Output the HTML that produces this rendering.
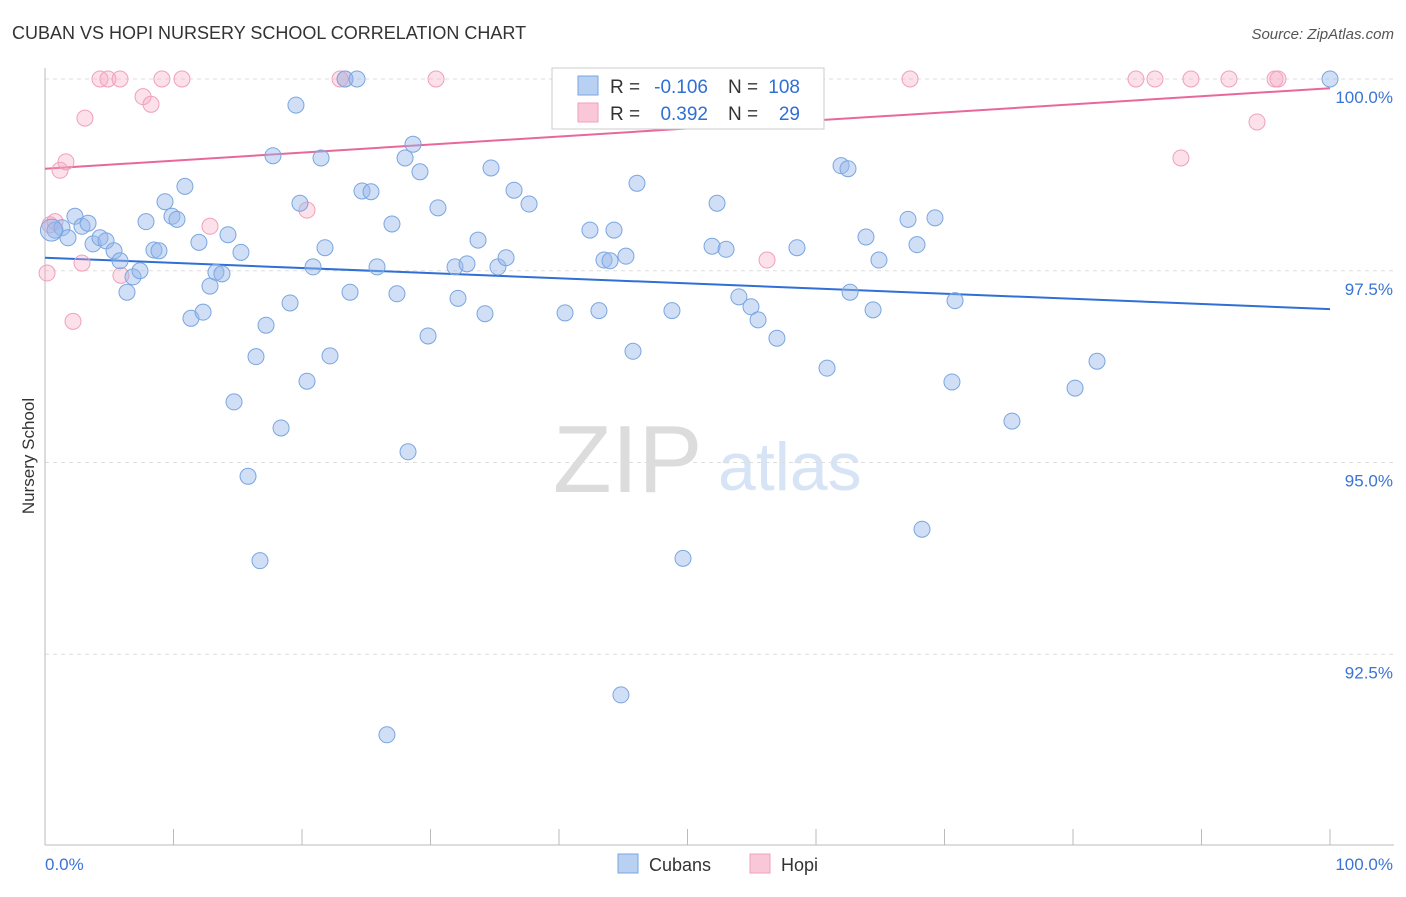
<!DOCTYPE html>
<html><head><meta charset="utf-8"><style>
body{margin:0;background:#fff;font-family:"Liberation Sans",sans-serif;}
svg text{font-family:"Liberation Sans",sans-serif;}
</style></head><body>
<svg id="chart" width="1406" height="892" viewBox="0 0 1406 892" xmlns="http://www.w3.org/2000/svg">
<text x="12" y="39" font-size="18" fill="#333">CUBAN VS HOPI NURSERY SCHOOL CORRELATION CHART</text>
<text x="1394" y="39" font-size="15" fill="#555" text-anchor="end" font-style="italic">Source: ZipAtlas.com</text>
<g>
<text x="553" y="492" font-size="96" fill="#dcdcdc" font-family="Liberation Serif,serif">ZIP</text>
<text x="718" y="490" font-size="68" fill="#d6e4f5">atlas</text>
</g>
<g id="grid"></g><g id="axes"></g><g id="trend"></g><g id="points"></g>
<text transform="translate(34,456) rotate(-90)" font-size="17" fill="#333" text-anchor="middle">Nursery School</text>
<g>
<rect x="552" y="68" width="272" height="61" fill="#fff" stroke="#ccc"/>
<rect x="578" y="76" width="20" height="19" fill="#b8d0f2" stroke="#7aa6e0"/>
<rect x="578" y="103" width="20" height="19" fill="#f9c7d7" stroke="#f0a0bb"/>
<text x="610" y="93" font-size="19" fill="#333">R =</text>
<text x="708" y="93" font-size="19" fill="#2f6fd6" text-anchor="end">-0.106</text>
<text x="728" y="93" font-size="19" fill="#333">N =</text>
<text x="800" y="93" font-size="19" fill="#2f6fd6" text-anchor="end">108</text>
<text x="610" y="120" font-size="19" fill="#333">R =</text>
<text x="708" y="120" font-size="19" fill="#2f6fd6" text-anchor="end">0.392</text>
<text x="728" y="120" font-size="19" fill="#333">N =</text>
<text x="800" y="120" font-size="19" fill="#2f6fd6" text-anchor="end">29</text>
</g>
<g>
<rect x="618" y="854" width="20" height="19" fill="#b8d0f2" stroke="#7aa6e0"/>
<text x="649" y="871" font-size="18" fill="#333">Cubans</text>
<rect x="750" y="854" width="20" height="19" fill="#f9c7d7" stroke="#f0a0bb"/>
<text x="781" y="871" font-size="18" fill="#333">Hopi</text>
</g>
</svg>
<script>
const yTicks=[100,97.5,95,92.5];
const yTickLabels=["100.0%","97.5%","95.0%","92.5%"];
const xTickVals=[0,10,20,30,40,50,60,70,80,90,100];
const xEndLabels=["0.0%","100.0%"];
const cubanX=[0.78,1.32,1.79,2.33,2.88,3.35,3.74,4.28,4.75,5.37,5.84,6.38,6.85,7.39,7.86,8.48,8.87,9.34,9.88,10.27,10.89,11.36,11.98,12.3,12.84,13.3,13.77,14.24,14.71,15.25,15.8,16.42,16.73,17.2,17.74,18.37,19.07,19.53,19.84,20.39,20.86,21.48,21.79,22.18,23.35,23.74,24.28,24.67,25.37,25.84,26.61,27.0,27.39,28.02,28.25,28.64,29.18,29.81,30.58,31.91,32.14,32.84,33.7,34.24,34.71,35.25,35.88,36.5,37.67,40.47,42.41,43.11,43.5,43.97,44.28,44.82,45.21,45.76,46.07,48.79,49.65,50.82,51.91,52.3,53.0,54.0,54.94,55.49,56.96,58.52,60.86,61.95,62.49,62.65,63.89,64.44,64.9,67.16,67.86,68.25,69.26,70.58,70.82,75.25,80.16,81.87,100,0.5];
const cubanY=[98.03,98.06,97.93,98.21,98.08,98.12,97.85,97.93,97.89,97.76,97.63,97.22,97.42,97.5,98.14,97.77,97.76,98.4,98.21,98.17,98.6,96.88,97.87,96.96,97.3,97.48,97.46,97.97,95.79,97.74,94.82,96.38,93.72,96.79,99.0,95.45,97.08,99.66,98.38,96.06,97.55,98.97,97.8,96.39,100,97.22,100,98.54,98.53,97.55,91.45,98.11,97.2,98.97,95.14,99.15,98.79,96.65,98.32,97.55,97.14,97.59,97.9,96.94,98.84,97.55,97.67,98.55,98.37,96.95,98.03,96.98,97.64,97.63,98.03,91.97,97.69,96.45,98.64,96.98,93.75,100,97.82,98.38,97.78,97.16,97.03,96.86,96.62,97.8,96.23,98.87,98.83,97.22,97.94,96.99,97.64,98.17,97.84,94.13,98.19,96.05,97.11,95.54,95.97,96.32,100,98.03];
const hopiX=[0.39,0.16,0.78,1.17,1.63,2.18,2.88,3.11,4.28,4.9,5.84,5.91,7.63,8.25,9.1,10.66,12.84,20.39,22.96,23.35,30.43,56.19,67.32,84.9,86.38,89.18,88.4,92.14,94.32,95.72,95.95];
const hopiY=[98.1,97.47,98.14,98.81,98.92,96.84,97.6,99.49,100,100,100,97.44,99.77,99.67,100,100,98.08,98.29,100,100,100,97.64,100,100,100,100,98.97,100,99.44,100,100];
const cubanTrend=[97.67,97.0];
const hopiTrend=[98.83,99.88];
const X=v=>45+v*12.85, Y=v=>79+(100-v)*76.7;
const NS="http://www.w3.org/2000/svg";
function mk(parent,tag,attrs){const e=document.createElementNS(NS,tag);for(const k in attrs)e.setAttribute(k,attrs[k]);document.getElementById(parent).appendChild(e);return e;}
yTicks.forEach((t,i)=>{
 const l=mk("grid","line",{x1:45,x2:1394,y1:Y(t),y2:Y(t),stroke:"#ddd","stroke-dasharray":"4,4"});
 
 
 const tx=mk("grid","text",{x:1393,y:Y(t)+24,"font-size":17,fill:"#3b74d4","text-anchor":"end"});
 tx.textContent=yTickLabels[i];
 
 
});
const ax=mk("axes","line",{x1:45,x2:45,y1:68,y2:845,stroke:"#bbb"});


const bx=mk("axes","line",{x1:45,x2:1394,y1:845,y2:845,stroke:"#bbb"});


xTickVals.forEach(v=>{
 const t=mk("axes","line",{x1:X(v),x2:X(v),y1:829,y2:845,stroke:"#bbb"});
 
 
});
const xl0=mk("axes","text",{x:45,y:870,"font-size":17,fill:"#3b74d4"});xl0.textContent=xEndLabels[0];


const xl1=mk("axes","text",{x:1393,y:870,"font-size":17,fill:"#3b74d4","text-anchor":"end"});xl1.textContent=xEndLabels[1];


hopiX.forEach((x,i)=>{
 const c=mk("points","circle",{cx:X(x),cy:Y(hopiY[i]),r:8,fill:"rgba(245,170,195,0.35)",stroke:"#f0a0bb","stroke-width":1});
 
 
});
cubanX.forEach((x,i)=>{
 const c=mk("points","circle",{cx:X(x),cy:Y(cubanY[i]),r:(i===cubanX.length-1?11:8),fill:"rgba(150,185,235,0.45)",stroke:"#7aa6e0","stroke-width":1});
 
 
});
const tl1=mk("trend","line",{x1:X(0),x2:X(100),y1:Y(cubanTrend[0]),y2:Y(cubanTrend[1]),stroke:"#2f6fd6","stroke-width":2});


const tl2=mk("trend","line",{x1:X(0),x2:X(100),y1:Y(hopiTrend[0]),y2:Y(hopiTrend[1]),stroke:"#e8689a","stroke-width":2});


</script>
</body></html>
